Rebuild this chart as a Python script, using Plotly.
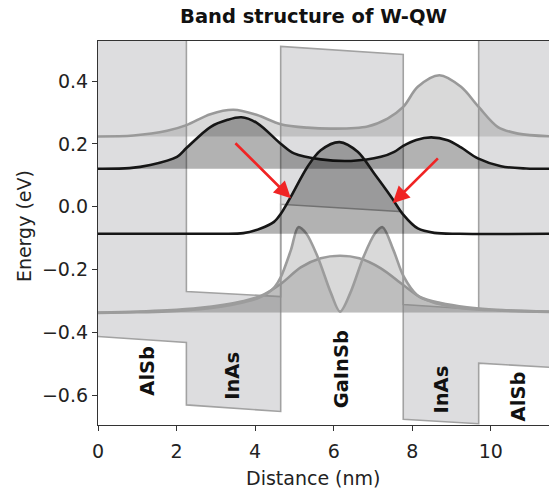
import plotly.graph_objects as go

# ---------------- data ----------------
# band edges (layer boundaries in nm, energies in eV)
band_x = [0.0, 2.25, 2.25, 4.65, 4.65, 7.77, 7.77, 9.69, 9.69, 11.6]
cb_e = [1.0, 1.0, -0.270, -0.286, 0.511, 0.485, -0.311, -0.327, 1.0, 1.0]
vb_e = [-0.413, -0.432, -0.631, -0.652, 0.008, -0.016, -0.677, -0.691, -0.498, -0.512]

# upper grey electron state
e2_base = 0.224
e2_x = [0.0, 0.9, 1.76, 2.25, 2.86, 3.45, 4.05, 4.65, 5.33, 6.01, 6.86, 7.37, 7.77, 8.14,
        8.69, 9.24, 9.69, 10.18, 10.69, 11.6]
e2_e = [0.224, 0.227, 0.242, 0.260, 0.295, 0.309, 0.292, 0.263, 0.252, 0.249, 0.256, 0.281,
        0.318, 0.382, 0.419, 0.382, 0.318, 0.254, 0.233, 0.224]

# upper black electron state
e1_base = 0.121
e1_x = [0.0, 0.8, 1.33, 2.01, 2.25, 2.86, 3.30, 3.65, 4.06, 4.65, 4.99, 5.67, 6.44, 7.20,
        7.54, 7.77, 8.10, 8.48, 8.90, 9.24, 9.67, 10.26, 10.9, 11.6]
e1_e = [0.121, 0.123, 0.133, 0.159, 0.187, 0.254, 0.277, 0.285, 0.266, 0.201, 0.170, 0.151,
        0.146, 0.159, 0.175, 0.194, 0.213, 0.221, 0.212, 0.189, 0.154, 0.129, 0.122, 0.121]

# lower black hole state
h1_base = -0.086
h1_x = [0.0, 3.0, 3.7, 4.14, 4.48, 4.65, 4.90, 5.33, 5.67, 6.15, 6.61, 7.03, 7.46, 7.77,
        8.14, 8.56, 9.2, 11.6]
h1_e = [-0.086, -0.086, -0.084, -0.069, -0.048, -0.023, 0.030, 0.127, 0.180, 0.206, 0.175,
        0.106, 0.032, -0.025, -0.069, -0.083, -0.086, -0.086]

# grey hole states
h_base = -0.337
h2_x = [0.0, 1.0, 1.76, 2.6, 3.2, 3.71, 4.05, 4.31, 4.50, 4.65, 4.91, 5.10, 5.30, 5.59,
        5.93, 6.16, 6.42, 6.76, 7.05, 7.24, 7.52, 7.78, 8.12, 8.54, 9.0, 9.39, 10.3, 11.6]
h2_e = [-0.338, -0.336, -0.333, -0.326, -0.317, -0.304, -0.292, -0.276, -0.255, -0.225,
        -0.138, -0.065, -0.085, -0.159, -0.275, -0.334, -0.275, -0.159, -0.085, -0.065,
        -0.138, -0.222, -0.281, -0.305, -0.318, -0.325, -0.331, -0.335]
h3_x = [0.0, 1.0, 1.76, 2.6, 3.2, 3.71, 4.14, 4.65, 5.16, 5.67, 6.16, 6.65, 7.2, 7.77,
        8.22, 8.7, 9.39, 10.3, 11.6]
h3_e = [-0.337, -0.334, -0.330, -0.322, -0.312, -0.300, -0.284, -0.246, -0.193, -0.164,
        -0.156, -0.164, -0.196, -0.249, -0.289, -0.306, -0.320, -0.329, -0.334]

layer_names = ["AlSb", "InAs", "GaInSb", "InAs", "AlSb"]
x_ticks = [0, 2, 4, 6, 8, 10]
y_ticks = [-0.6, -0.4, -0.2, 0.0, 0.2, 0.4]
y_ticktext = ["\u22120.6", "\u22120.4", "\u22120.2", "0.0", "0.2", "0.4"]

# ---------------- figure ----------------
FONT = "DejaVu Sans"
fig = go.Figure()

# band gap region
fig.add_trace(go.Scatter(
    x=band_x + band_x[::-1], y=cb_e + vb_e[::-1], mode="lines", fill="toself",
    fillcolor="rgb(221,221,223)", line=dict(width=0), hoverinfo="skip", showlegend=False))
for ys in (cb_e, vb_e):
    fig.add_trace(go.Scatter(x=band_x, y=ys, mode="lines",
                             line=dict(color="#a2a2a2", width=1.6),
                             hoverinfo="skip", showlegend=False))


def add_state(xs, ys, base, line_color, fill_color):
    fig.add_trace(go.Scatter(x=[xs[0], xs[-1]], y=[base, base], mode="lines",
                             line=dict(width=0, color="rgba(0,0,0,0)"),
                             hoverinfo="skip", showlegend=False))
    fig.add_trace(go.Scatter(x=xs, y=ys, mode="lines", fill="tonexty", fillcolor=fill_color,
                             line=dict(color=line_color, width=2.6, shape="spline",
                                       smoothing=0.9),
                             hoverinfo="skip", showlegend=False))


add_state(h3_x, h3_e, h_base, "#9c9c9c", "rgba(128,128,128,0.3)")
add_state(h2_x, h2_e, h_base, "#9c9c9c", "rgba(128,128,128,0.3)")
add_state(e2_x, e2_e, e2_base, "#999999", "rgba(128,128,128,0.3)")
add_state(e1_x, e1_e, e1_base, "#161616", "rgba(0,0,0,0.3)")
add_state(h1_x, h1_e, h1_base, "#161616", "rgba(0,0,0,0.3)")

annotations = []
# red arrows
for (x0, y0, x1, y1) in [(3.46, 0.207, 4.91, 0.027), (8.69, 0.159, 7.50, 0.011)]:
    annotations.append(dict(x=x1, y=y1, ax=x0, ay=y0, xref="x", yref="y", axref="x",
                            ayref="y", showarrow=True, arrowhead=2, arrowsize=1.3,
                            arrowwidth=2.6, arrowcolor="#f02424", text="", standoff=0))
# layer labels
label_pos = [(1.24, -0.523), (3.44, -0.538), (6.2, -0.519), (8.75, -0.583), (10.69, -0.604)]
for name, (lx, ly) in zip(layer_names, label_pos):
    annotations.append(dict(x=lx, y=ly, xref="x", yref="y", text="<b>%s</b>" % name,
                            textangle=-90, showarrow=False,
                            font=dict(family=FONT, size=19.5, color="#111")))
# axis titles
annotations.append(dict(x=0.478, y=-0.137, xref="paper", yref="paper", text="Distance (nm)",
                        showarrow=False, xanchor="center", yanchor="middle",
                        font=dict(family=FONT, size=19, color="#222")))
annotations.append(dict(x=-0.164, y=0.518, xref="paper", yref="paper", text="Energy (eV)",
                        textangle=-90, showarrow=False, xanchor="center", yanchor="middle",
                        font=dict(family=FONT, size=19, color="#222")))

fig.update_layout(
    width=549, height=490,
    margin=dict(l=98, r=0, t=41, b=65),
    paper_bgcolor="white", plot_bgcolor="white",
    font=dict(family=FONT, size=19, color="#222"),
    title=dict(text="<b>Band structure of W-QW</b>", x=313.5 / 549, y=1 - 16.5 / 490,
               xanchor="center", yanchor="middle", xref="container", yref="container",
               font=dict(family=FONT, size=19.5, color="#111")),
    annotations=annotations,
    showlegend=False,
)
fig.update_xaxes(range=[0, 11.48], tickvals=x_ticks, ticks="outside", ticklen=5, tickwidth=1.2,
                 tickcolor="#333", showline=True, linecolor="#333", linewidth=1.2, mirror=True,
                 showgrid=False, zeroline=False, ticklabelstandoff=4,
                 tickfont=dict(size=19, color="#222"))
fig.update_yaxes(range=[-0.695, 0.528], tickvals=y_ticks, ticktext=y_ticktext, ticks="outside",
                 ticklen=5, tickwidth=1.2, tickcolor="#333", showline=True, linecolor="#333",
                 linewidth=1.2, showgrid=False, zeroline=False,
                 tickfont=dict(size=19, color="#222"))

fig.write_html("out.html")
